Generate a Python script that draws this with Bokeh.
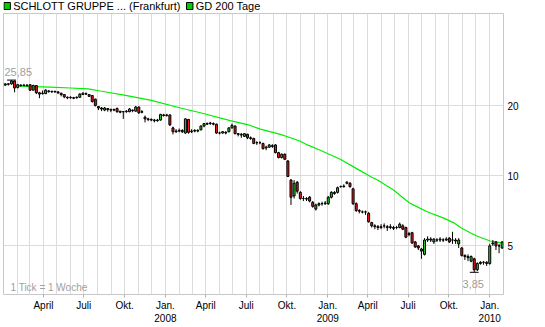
import pandas as pd
from bokeh.plotting import figure
from bokeh.layouts import column
from bokeh.models import Range1d, FixedTicker, Label, ColumnDataSource
from bokeh.core.properties import value
from bokeh.embed import file_html
from bokeh.resources import INLINE

# ---------------- data ----------------
stock_name = "SCHLOTT GRUPPE ... (Frankfurt)"
ma_name = "GD 200 Tage"
note_text = "1 Tick = 1 Woche"
first_week = "2007-01-05"

opens = [24.6, 24.9, 24.9, 25.6, 24.0, 24.6, 24.5, 24.6, 24.7, 23.4,
         24.5, 22.8, 22.6, 22.6, 23.2, 23.1, 23.0, 23.0, 22.7, 22.4,
         21.8, 21.7, 21.7, 21.7, 21.8, 22.4, 22.6, 22.4, 22.2, 21.4,
         19.9, 19.6, 19.2, 19.5, 19.3, 19.2, 19.5, 19.0, 18.9, 18.9,
         18.9, 19.2, 19.0, 19.8, 18.8, 17.9, 17.6, 17.5, 17.4, 17.3,
         17.4, 18.3, 18.2, 18.3, 16.1, 15.5, 15.6, 15.7, 15.3, 17.5,
         15.5, 15.6, 15.7, 15.8, 16.4, 16.7, 16.8, 16.8, 16.7, 15.3,
         15.3, 15.4, 15.5, 16.1, 16.4, 15.2, 15.1, 14.8, 15.1, 14.6,
         14.5, 13.9, 13.9, 13.8, 13.2, 13.3, 13.5, 13.6, 12.6, 12.0,
         12.4, 11.6, 9.6, 8.2, 9.4, 8.5, 8.0, 8.0, 8.1, 7.7,
         7.2, 7.5, 7.6, 7.6, 7.6, 8.1, 8.4, 8.5, 9.0, 9.0,
         9.3, 9.3, 8.8, 7.6, 7.1, 7.0, 7.0, 6.9, 6.3, 6.1,
         6.05, 6.0, 6.1, 6.05, 6.0, 6.0, 6.0, 6.0, 6.1, 6.0,
         5.6, 5.7, 5.2, 5.0, 4.85, 4.6, 5.3, 5.35, 5.2, 5.3,
         5.3, 5.3, 5.3, 5.4, 5.3, 5.3, 5.1, 4.9, 4.55, 4.5,
         4.3, 4.4, 3.95, 4.2, 4.25, 4.25, 4.2, 5.1, 5.2, 5.0,
         4.9]
closes = [24.9, 24.8, 25.6, 23.9, 24.7, 24.5, 24.6, 24.5, 23.4, 24.5,
          22.8, 22.5, 22.7, 23.4, 23.1, 23.0, 23.1, 22.8, 22.4, 21.9,
          21.7, 21.8, 21.6, 21.8, 22.5, 22.7, 22.5, 22.0, 20.9, 20.1,
          19.6, 19.4, 19.6, 19.3, 19.2, 19.3, 18.9, 18.8, 18.9, 19.0,
          19.4, 19.1, 19.8, 18.7, 18.9, 17.6, 17.5, 17.4, 17.3, 17.4,
          18.4, 18.2, 18.3, 16.6, 15.5, 15.6, 15.7, 15.5, 17.6, 15.4,
          15.6, 15.7, 15.6, 16.4, 16.8, 16.8, 16.9, 16.7, 15.3, 15.3,
          15.5, 15.3, 16.1, 16.5, 15.2, 15.1, 15.0, 15.2, 14.6, 14.5,
          13.8, 13.9, 13.9, 13.1, 13.3, 13.6, 13.4, 12.6, 12.0, 12.4,
          11.8, 9.95, 8.1, 9.3, 8.6, 8.0, 8.0, 7.95, 7.8, 7.4,
          7.5, 7.6, 7.6, 7.65, 8.1, 8.5, 8.5, 8.9, 9.0, 9.05,
          9.4, 9.0, 7.6, 7.1, 7.05, 7.0, 7.0, 6.35, 6.1, 6.05,
          6.0, 6.05, 6.1, 6.0, 6.05, 5.95, 6.0, 6.2, 5.9, 5.45,
          5.65, 5.15, 4.95, 4.9, 4.75, 5.3, 5.35, 5.3, 5.35, 5.3,
          5.35, 5.3, 5.35, 5.2, 5.3, 5.25, 5.3, 4.55, 4.5, 4.45,
          4.5, 3.95, 4.2, 4.25, 4.25, 4.2, 5.0, 5.15, 5.0, 5.0,
          5.2]
highs = [25.0, 25.1, 25.85, 25.7, 24.9, 24.8, 24.9, 24.8, 24.8, 24.7,
         24.6, 23.0, 23.3, 23.6, 23.4, 23.3, 23.3, 23.2, 22.8, 22.5,
         22.0, 22.0, 21.9, 22.0, 22.7, 22.9, 22.9, 22.5, 22.3, 21.5,
         20.0, 19.8, 19.8, 19.6, 19.5, 19.5, 19.7, 19.0, 19.0, 19.2,
         19.6, 19.3, 20.0, 19.9, 19.2, 18.2, 17.8, 17.7, 17.6, 17.6,
         18.5, 18.5, 18.5, 18.4, 16.3, 15.9, 16.0, 15.9, 17.7, 17.6,
         15.9, 15.9, 15.9, 16.5, 16.9, 17.0, 17.1, 17.0, 16.8, 15.5,
         15.6, 15.6, 16.2, 16.8, 16.5, 15.3, 15.3, 15.3, 15.2, 14.8,
         14.6, 14.1, 14.1, 13.9, 13.5, 13.7, 13.7, 13.7, 12.7, 12.5,
         12.5, 11.7, 9.7, 9.6, 9.5, 8.6, 8.2, 8.1, 8.2, 7.8,
         7.6, 7.7, 7.75, 7.8, 8.2, 8.6, 8.6, 9.0, 9.1, 9.2,
         9.5, 9.4, 8.9, 7.7, 7.2, 7.1, 7.1, 7.0, 6.35, 6.2,
         6.15, 6.2, 6.25, 6.15, 6.2, 6.1, 6.1, 6.3, 6.2, 6.05,
         5.75, 5.75, 5.25, 5.05, 4.9, 5.4, 5.5, 5.45, 5.4, 5.4,
         5.45, 5.4, 5.45, 5.45, 5.75, 5.4, 5.4, 4.95, 4.6, 4.6,
         4.55, 4.45, 4.25, 4.3, 4.3, 4.3, 5.1, 5.3, 5.25, 5.1,
         5.25]
lows = [24.4, 24.5, 24.7, 22.9, 23.8, 24.2, 24.3, 24.2, 23.2, 23.3,
        22.5, 21.6, 22.4, 22.5, 22.8, 22.8, 22.8, 22.5, 22.0, 21.6,
        21.4, 21.5, 21.4, 21.5, 21.7, 22.3, 22.3, 21.9, 20.7, 19.9,
        19.2, 19.0, 19.0, 18.9, 18.8, 19.0, 18.7, 18.6, 17.6, 18.7,
        18.8, 18.8, 18.9, 18.5, 18.6, 17.0, 17.2, 17.2, 17.0, 17.1,
        17.3, 18.0, 18.0, 16.4, 15.1, 15.3, 15.4, 15.3, 15.2, 15.2,
        15.3, 15.4, 15.4, 15.7, 16.2, 16.6, 16.6, 16.5, 15.2, 15.1,
        15.2, 15.1, 15.4, 16.0, 15.1, 14.8, 14.6, 14.7, 14.4, 14.3,
        13.7, 13.6, 13.7, 13.0, 12.9, 13.2, 13.2, 12.5, 11.9, 11.9,
        11.7, 9.9, 7.5, 8.0, 8.4, 7.9, 7.8, 7.8, 7.7, 7.3,
        7.1, 7.4, 7.45, 7.5, 7.5, 8.0, 8.3, 8.4, 8.9, 8.9,
        9.2, 8.9, 7.5, 7.0, 6.9, 6.9, 6.8, 6.3, 6.0, 5.9,
        5.85, 5.9, 5.95, 5.8, 5.9, 5.85, 5.9, 5.95, 5.85, 5.4,
        5.5, 5.1, 4.9, 4.8, 4.4, 4.55, 5.2, 5.2, 5.1, 5.2,
        5.2, 5.2, 5.25, 5.15, 5.1, 5.1, 4.9, 4.5, 4.35, 4.3,
        4.25, 3.85, 3.9, 4.15, 4.15, 4.1, 4.15, 5.0, 4.8, 4.65,
        4.85]

gd_dates = ["2007-01-28", "2007-02-20", "2007-04-16", "2007-06-01", "2007-07-11",
            "2007-08-07", "2007-08-30", "2007-10-03", "2007-11-28", "2008-02-04",
            "2008-03-20", "2008-05-26", "2008-07-06", "2008-08-02", "2008-09-16",
            "2008-10-09", "2008-10-31", "2008-11-16", "2008-12-15", "2009-01-29",
            "2009-03-09", "2009-04-07", "2009-04-23", "2009-05-29", "2009-06-25",
            "2009-07-07", "2009-08-14", "2009-09-18", "2009-10-11", "2009-10-27",
            "2009-11-18", "2009-12-04", "2010-01-02", "2010-01-29"]
gd_values = [24.4, 24.3, 24.1, 23.9, 23.7,
             23.2, 22.8, 22.2, 21.2, 19.6,
             18.7, 17.3, 16.6, 15.9, 15.1,
             14.6, 14.1, 13.6, 12.9, 11.8,
             10.7, 9.95, 9.6, 8.7, 7.9,
             7.6, 7.0, 6.6, 6.3, 6.0,
             5.7, 5.5, 5.25, 5.15]

x_tick_dates = ["2007-04-01", "2007-07-01", "2007-10-01", "2008-01-01",
                "2008-04-01", "2008-07-01", "2008-10-01", "2009-01-01",
                "2009-04-01", "2009-07-01", "2009-10-01", "2010-01-01"]
x_tick_labels = ["April", "Juli", "Okt.", "Jan.\n2008",
                 "April", "Juli", "Okt.", "Jan.\n2009",
                 "April", "Juli", "Okt.", "Jan.\n2010"]
y_ticks = [5, 10, 20]
y_tick_labels = ["5", "10", "20"]

# ---------------- helpers ----------------
DAY = 86400000.0


def ms(d):
    return pd.Timestamp(d).value / 1e6


FONT = "Liberation Sans"
UP = "#22cc22"
DOWN = "#ee1c1c"
LEGEND_GREEN = "#00cc00"

# ---------------- legend strip ----------------
leg = figure(width=545, height=13, title=None,
             x_range=Range1d(0, 545), y_range=Range1d(13, 0),
             output_backend="svg", toolbar_location=None,
             x_axis_location=None, y_axis_location=None,
             min_border_left=0, min_border_right=0, min_border_top=0, min_border_bottom=0)
leg.outline_line_color = None
leg.grid.visible = False
leg.background_fill_color = "white"
leg.border_fill_color = "white"
leg_x = [0.5, 199.5]
leg.quad(left=leg_x, right=[x + 7 for x in leg_x], top=[2.0, 2.0], bottom=[9.0, 9.0],
         fill_color=LEGEND_GREEN, line_color="black", line_width=1)
leg.text(x=[x + 10 for x in leg_x], y=[5.5, 5.5], text=[stock_name, ma_name],
         text_font=value(FONT), text_font_size="11px", text_color="#000000",
         text_align="left", text_baseline="middle")

# ---------------- main chart ----------------
week_dates = pd.date_range(first_week, periods=len(closes), freq="7D")
week_ms = [ms(d) for d in week_dates]
src = ColumnDataSource(dict(
    x=week_ms,
    top=[max(o, c) for o, c in zip(opens, closes)],
    bottom=[min(o, c) for o, c in zip(opens, closes)],
    high=highs, low=lows,
    color=[UP if c >= o else DOWN for o, c in zip(opens, closes)],
))

p = figure(width=545, height=314, title=None,
           x_axis_type="datetime", y_axis_type="log", y_axis_location="right",
           x_range=Range1d(ms("2007-01-01"), ms("2010-02-01")),
           y_range=Range1d(3.09, 50),
           output_backend="svg", toolbar_location=None,
           min_border_left=3, min_border_right=42,
           min_border_top=0, min_border_bottom=33)
p.background_fill_color = "white"
p.border_fill_color = "white"
p.outline_line_color = "#c8c8c8"

# grid
month_starts = [ms(d) for d in pd.date_range("2007-02-01", "2010-01-01", freq="MS")]
p.xgrid.ticker = FixedTicker(ticks=month_starts)
p.ygrid.ticker = FixedTicker(ticks=y_ticks)
p.xgrid.grid_line_color = "#dcdcdc"
p.ygrid.grid_line_color = "#dcdcdc"

# x axis
xa = p.xaxis[0]
tick_ms = [ms(d) for d in x_tick_dates]
xa.ticker = FixedTicker(ticks=tick_ms)
xa.major_label_overrides = {t: lab for t, lab in zip(tick_ms, x_tick_labels)}
xa.axis_line_color = None
xa.major_tick_line_color = "#b0b0b0"
xa.major_tick_in = 0
xa.major_tick_out = 3
xa.minor_tick_line_color = None
xa.major_label_standoff = 2
xa.major_label_text_font = FONT
xa.major_label_text_font_size = "10px"
xa.major_label_text_color = "#000000"

# y axis (right)
ya = p.yaxis[0]
ya.ticker = FixedTicker(ticks=y_ticks)
ya.major_label_overrides = {t: lab for t, lab in zip(y_ticks, y_tick_labels)}
ya.axis_line_color = None
ya.major_tick_line_color = None
ya.major_tick_in = 0
ya.major_tick_out = 0
ya.minor_tick_line_color = None
ya.major_label_standoff = 4
ya.major_label_text_font = FONT
ya.major_label_text_font_size = "10px"
ya.major_label_text_color = "#000000"

# moving average
p.line(x=[ms(d) for d in gd_dates], y=gd_values, line_color="#00ee00", line_width=1.2)

# candles
p.segment(x0="x", y0="low", x1="x", y1="high", source=src, line_color="black", line_width=1)
p.vbar(x="x", top="top", bottom="bottom", width=4.5 * DAY, source=src,
       fill_color="color", line_color="black", line_width=1)

# max / min markers
i_max = max(range(len(highs)), key=lambda i: highs[i])
i_min = min(range(len(lows)), key=lambda i: lows[i])
for i, val in ((i_max, highs[i_max]), (i_min, lows[i_min])):
    p.segment(x0=[week_ms[i] - 10 * DAY], x1=[week_ms[i] + 10 * DAY], y0=[val], y1=[val],
              line_color="black", line_width=1)


def fmt(v):
    return ("%.2f" % v).replace(".", ",")


p.text(x=[week_ms[i_max]], y=[highs[i_max]], text=[fmt(highs[i_max])],
       text_font=value(FONT), text_font_size="11px", text_color="#a0a0a0",
       text_align="left", text_baseline="alphabetic", x_offset=-7, y_offset=-8)
p.text(x=[week_ms[i_min]], y=[lows[i_min]], text=[fmt(lows[i_min])],
       text_font=value(FONT), text_font_size="11px", text_color="#a0a0a0",
       text_align="center", text_baseline="alphabetic", x_offset=-1, y_offset=12)

# note
p.add_layout(Label(x=7, y=7, x_units="screen", y_units="screen", text=note_text,
                   text_font=FONT, text_font_size="10px", text_color="#a0a0a0",
                   text_baseline="alphabetic"))

layout = column(leg, p)
open("out.html", "w").write(file_html(layout, INLINE))
